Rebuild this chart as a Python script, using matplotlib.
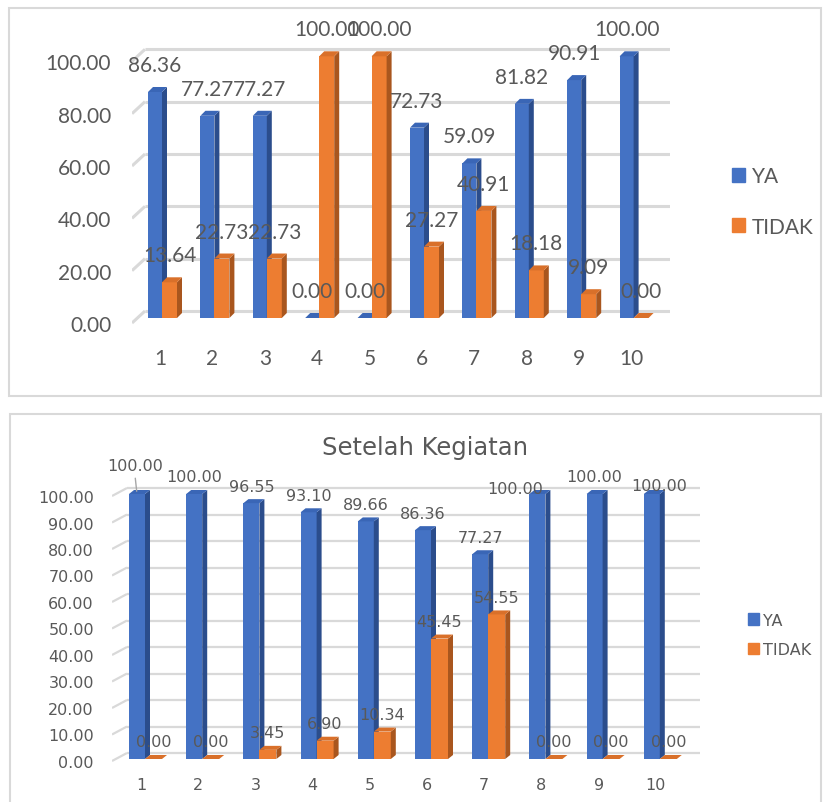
import matplotlib
matplotlib.use("Agg")
import matplotlib.pyplot as plt
from matplotlib.patches import Polygon, Patch, Rectangle
from matplotlib.transforms import ScaledTranslation

# -----------------------------
# DATA
# -----------------------------
categories = ["1", "2", "3", "4", "5", "6", "7", "8", "9", "10"]
series_names = ["YA", "TIDAK"]

before_ya = [86.36, 77.27, 77.27, 0.00, 0.00, 72.73, 59.09, 81.82, 90.91, 100.00]
before_tidak = [13.64, 22.73, 22.73, 100.00, 100.00, 27.27, 40.91, 18.18, 9.09, 0.00]

after_ya = [100.00, 100.00, 96.55, 93.10, 89.66, 86.36, 77.27, 100.00, 100.00, 100.00]
after_tidak = [0.00, 0.00, 3.45, 6.90, 10.34, 45.45, 54.55, 0.00, 0.00, 0.00]

top_ticks = [0, 20, 40, 60, 80, 100]
bottom_ticks = [0, 10, 20, 30, 40, 50, 60, 70, 80, 90, 100]
bottom_title = "Setelah Kegiatan"

# -----------------------------
# STYLE
# -----------------------------
W, H = 824, 803
TEXT = "#595959"
GRID = "#D9D9D9"
BLUE = ("#4472C4", "#2B4D8C", "#3A66B6")      # front, side, top
ORANGE = ("#ED7D31", "#A9561E", "#D9702A")

fig = plt.figure(figsize=(W / 100, H / 100), dpi=100)


def px_axes(left, top, right, bottom):
    return fig.add_axes([left / W, (H - bottom) / H, (right - left) / W, (bottom - top) / H])


def draw_panel(ax, ya, tidak, ticks, cfg):
    n = len(categories)
    xs = list(range(1, n + 1))
    ax.set_xlim(cfg["xlim"])
    ax.set_ylim(cfg["ylim"])
    ux = (cfg["xlim"][1] - cfg["xlim"][0]) / cfg["wpx"]   # data per px
    uy = (cfg["ylim"][1] - cfg["ylim"][0]) / cfg["hpx"]
    for s in ax.spines.values():
        s.set_visible(False)

    # back wall gridlines with little diagonal
    x0 = cfg["xlim"][0]
    for v in ticks:
        yf = v - cfg["wall_front"] * uy
        yb = v + cfg["wall_back"] * uy
        xb = x0 + cfg["wall_dx"] * ux
        ax.plot([x0, xb], [yf, yb], color=GRID, lw=cfg["grid_lw"], zorder=1,
                solid_capstyle="butt")
        ax.plot([xb, cfg["xlim"][1]], [yb, yb], color=GRID, lw=cfg["grid_lw"], zorder=1,
                solid_capstyle="butt")

    dx = cfg["dx"] * ux
    dy = cfg["dy"] * uy
    z = 3
    for i, x in enumerate(xs):
        for vals, (l, r), cols in ((ya, cfg["blue_lr"], BLUE), (tidak, cfg["orange_lr"], ORANGE)):
            v = vals[i]
            xl, xr = x + l * ux, x + r * ux
            ax.bar(xl, v, width=xr - xl, align="edge", color=cols[0], zorder=z, lw=0)
            ax.add_patch(Polygon([(xr, 0), (xr + dx, dy), (xr + dx, v + dy), (xr, v)],
                                 closed=True, fc=cols[1], ec="none", zorder=z))
            ax.add_patch(Polygon([(xl, v), (xr, v), (xr + dx, v + dy), (xl + dx, v + dy)],
                                 closed=True, fc=cols[2], ec="none", zorder=z))
            z += 1

    # data labels
    for si, (vals, (l, r)) in enumerate(((ya, cfg["blue_lr"]), (tidak, cfg["orange_lr"]))):
        for i, x in enumerate(xs):
            nx, ny = cfg["nudge"].get((si, i), (0, 0))
            xc = x + ((l + r) / 2 + nx) * ux
            ax.annotate(f"{vals[i]:.2f}", (xc, vals[i]),
                        xytext=(0, (cfg["lab_off"] + ny) * 0.72), textcoords="offset points",
                        ha="center", va="center", fontsize=cfg["fs"], color=TEXT,
                        family=cfg["family"], zorder=50)

    ax.set_xticks(xs)
    ax.set_xticklabels(categories, family=cfg["family"], fontsize=cfg["fs"], color=TEXT)
    ax.set_yticks(ticks)
    ax.set_yticklabels([f"{t:.2f}" for t in ticks], family=cfg["family"],
                       fontsize=cfg["fs"], color=TEXT)
    ax.tick_params(axis="x", length=0, pad=cfg["xpad"])
    ax.tick_params(axis="y", length=0, pad=cfg["ypad"])
    off = ScaledTranslation(0, -cfg["wall_front"] / 100, fig.dpi_scale_trans)
    for lbl in ax.get_yticklabels():
        lbl.set_transform(lbl.get_transform() + off)

    handles = [Patch(color=BLUE[0], label=series_names[0]),
               Patch(color=ORANGE[0], label=series_names[1])]
    lg = ax.legend(handles=handles, loc="center left",
                   bbox_to_anchor=(cfg["leg"][0] / W, 1 - cfg["leg"][1] / H),
                   bbox_transform=fig.transFigure, frameon=False,
                   prop={"family": cfg["family"], "size": cfg["leg_fs"]},
                   handlelength=cfg["hl"], handleheight=cfg["hl"],
                   handletextpad=cfg["htp"], labelspacing=cfg["ls"],
                   borderpad=0, borderaxespad=0)
    for t in lg.get_texts():
        t.set_color(TEXT)


# -----------------------------
# PANEL BORDERS
# -----------------------------
fig.patches.append(Rectangle((9 / W, 1 - 397 / H), 812 / W, 388 / H, transform=fig.transFigure,
                             fill=False, ec=GRID, lw=1.5))
fig.patches.append(Rectangle((10 / W, -0.01), 811 / W, 1 - 415 / H + 0.01,
                             transform=fig.transFigure, fill=False, ec=GRID, lw=1.5))

# -----------------------------
# TOP PANEL
# -----------------------------
top_cfg = dict(
    xlim=(1 - 28 / 52.4, 1 + 510 / 52.4), ylim=((319 - 335) / 2.617, (319 - 40) / 2.617),
    wpx=538, hpx=295,
    wall_front=5, wall_back=7, wall_dx=13, grid_lw=2.2,
    dx=5, dy=5, blue_lr=(-12, 2), orange_lr=(2, 17),
    lab_off=27, nudge={}, fs=15, family="Lato",
    xpad=10, ypad=15,
    leg=(732, 202.5), leg_fs=15, hl=0.63, htp=0.34, ls=1.45,
)
ax1 = px_axes(132, 40, 670, 335)
draw_panel(ax1, before_ya, before_tidak, top_ticks, top_cfg)

# -----------------------------
# BOTTOM PANEL
# -----------------------------
bot_cfg = dict(
    xlim=(1 - 29 / 57.2, 1 + 559 / 57.2), ylim=((760 - 775) / 2.65, (760 - 470) / 2.65),
    wpx=588, hpx=305,
    wall_front=2, wall_back=6, wall_dx=15, grid_lw=1.6,
    dx=5, dy=4, blue_lr=(-12, 4), orange_lr=(4, 21),
    lab_off=17, nudge={(0, 0): (-2, 11), (0, 7): (-22, -12), (0, 9): (7, -9)},
    fs=11.5, family="DejaVu Sans",
    xpad=2, ypad=13,
    leg=(748, 636), leg_fs=11.5, hl=0.7, htp=0.26, ls=0.92,
)
ax2 = px_axes(112, 470, 700, 775)
draw_panel(ax2, after_ya, after_tidak, bottom_ticks, bot_cfg)
# leader line for first label
ax2.annotate("", xy=(1 - 4 / 57.2, after_ya[0]), xytext=(1 - 6 / 57.2, after_ya[0] + 7),
             arrowprops=dict(arrowstyle="-", color="#A6A6A6", lw=1), zorder=60)

fig.text(425 / W, 1 - 448 / H, bottom_title, ha="center", va="center",
         fontsize=17.5, color=TEXT, family="DejaVu Sans")

fig.savefig("out.png", dpi=100)
